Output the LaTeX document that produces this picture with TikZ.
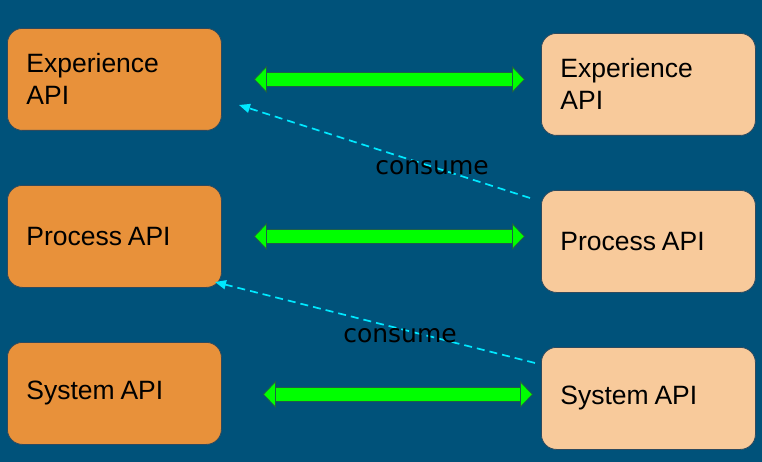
\documentclass[tikz,border=0pt]{standalone}
\usepackage{fontspec}
\setmainfont{Liberation Sans}
\newfontfamily\consumefont{DejaVu Sans}
\usetikzlibrary{arrows.meta}
\definecolor{bg}{HTML}{00527A}
\definecolor{leftfill}{HTML}{E8913A}
\definecolor{rightfill}{HTML}{F8CA9B}
\definecolor{boxline}{HTML}{2E4A5E}
\definecolor{arrowgreen}{HTML}{00FF00}
\definecolor{arrowedge}{HTML}{1E5E4A}
\definecolor{consumecyan}{HTML}{00E8FF}
\newcommand\apitextfont{\fontsize{26.5}{32}\selectfont}
\newcommand\tightspace{\spaceskip=5.8pt\relax}
\begin{document}
\begin{tikzpicture}[x=1pt,y=-1pt,
  apibox/.style={draw=boxline, line width=0.8pt, rounded corners=15pt,
    minimum width=214pt, minimum height=102pt, text width=176pt,
    inner xsep=19pt, inner ysep=0pt, align=left, anchor=north west,
    font=\apitextfont, text=black},
  leftbox/.style={apibox, fill=leftfill},
  rightbox/.style={apibox, fill=rightfill},
  bigarrowback/.style={draw=arrowedge, line width=14.6pt},
  bigarrow/.style={draw=arrowgreen, line width=13pt,
    {Triangle[length=13pt, width=27pt, fill=arrowgreen, color=arrowedge, line width=0.8pt]}-{Triangle[length=13pt, width=27pt, fill=arrowgreen, color=arrowedge, line width=0.8pt]}},
  consumeline/.style={draw=consumecyan, line width=1.7pt, dash pattern=on 8pt off 5pt,
    -{Triangle[length=11pt, width=9pt, fill=consumecyan, color=consumecyan]}},
  consumelabel/.style={font=\consumefont\fontsize{25}{30}\selectfont, text=black, inner sep=0pt}
]
\useasboundingbox (0,0) rectangle (762,462);
\fill[bg] (0,0) rectangle (762,462);

% left column
\node[leftbox] (e1) at (7,28) {Experience\\API};
\node[leftbox] (p1) at (7,185) {\tightspace Process API};
\node[leftbox] (s1) at (7,342) {\tightspace System API};
% right column
\node[rightbox] (e2) at (541,33) {Experience\\API};
\node[rightbox] (p2) at (541,190) {\tightspace Process API};
\node[rightbox] (s2) at (541,347) {\tightspace System API};

% green double arrows
\draw[bigarrowback, shorten <=45pt, shorten >=29pt] (e1.east) -- (e1.east -| e2.west);
\draw[bigarrow, shorten <=32pt, shorten >=16pt] (e1.east) -- (e1.east -| e2.west);
\draw[bigarrowback, shorten <=45pt, shorten >=29pt] (p1.east) -- (p1.east -| p2.west);
\draw[bigarrow, shorten <=32pt, shorten >=16pt] (p1.east) -- (p1.east -| p2.west);
\coordinate (s1r) at ([yshift=-1pt]s1.east);
\draw[bigarrowback, shorten <=54pt, shorten >=21pt] (s1r) -- (s1r -| s2.west);
\draw[bigarrow, shorten <=41pt, shorten >=8pt] (s1r) -- (s1r -| s2.west);

% consume connectors
\coordinate (c1s) at (530,198);
\coordinate (c1e) at (239,105);
\draw[consumeline] (c1s) -- (c1e);
\coordinate (c2s) at (535,363);
\coordinate (c2e) at (215,282);
\draw[consumeline] (c2s) -- (c2e);

\node[consumelabel] (l1) at (432,168) {consume};
\node[consumelabel] (l2) at (400,336) {consume};
\end{tikzpicture}
\end{document}
